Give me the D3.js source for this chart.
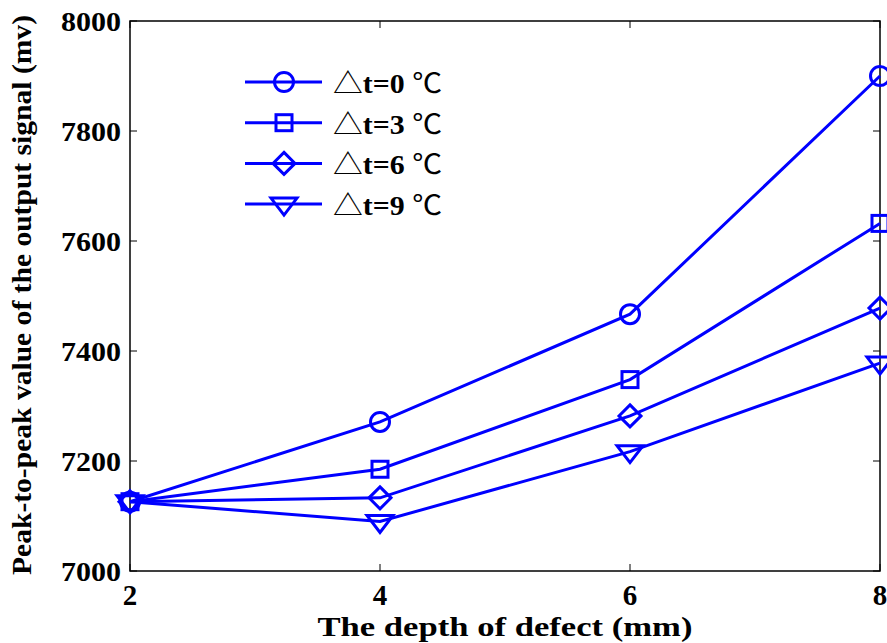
<!DOCTYPE html>
<html>
<head>
<meta charset="utf-8">
<script src="https://cdn.jsdelivr.net/npm/d3@7"></script>
<style>
  body { margin: 0; background: #fff; }
  text { font-family: "Liberation Serif", "Times New Roman", serif; font-weight: bold; fill: #000; }
</style>
</head>
<body>
<svg width="887" height="643"></svg>
<script>
// data
var depths = [2, 4, 6, 8];
var dt0 = [7126, 7271, 7467, 7900];
var dt3 = [7126, 7185, 7348, 7632];
var dt6 = [7126, 7133, 7282, 7478];
var dt9 = [7126, 7090, 7217, 7378];
var seriesNames = ['t=0', 't=3', 't=6', 't=9'];
var markerTypes = ['circle', 'square', 'diamond', 'triangle'];
var xTicks = [2, 4, 6, 8];
var yTicks = [7000, 7200, 7400, 7600, 7800, 8000];

var allSeries = [dt0, dt3, dt6, dt9];

var svg = d3.select('svg');
var plotLeft = 130, plotRight = 880, plotTop = 21, plotBottom = 571;
var blue = '#0000ff';

var scaleX = d3.scaleLinear().domain([2, 8]).range([plotLeft, plotRight]);
var scaleY = d3.scaleLinear().domain([7000, 8000]).range([plotBottom, plotTop]);

// box around the plot
svg.append('rect')
    .attr('x', plotLeft).attr('y', plotTop)
    .attr('width', plotRight - plotLeft).attr('height', plotBottom - plotTop)
    .attr('fill', 'none').attr('stroke', '#000').attr('stroke-width', 1.5);

// ticks pointing inward, on all four sides
var tickLen = 7;
svg.append('g').selectAll('line').data(xTicks).enter().append('line')
    .attr('x1', function(d) { return scaleX(d); }).attr('x2', function(d) { return scaleX(d); })
    .attr('y1', plotBottom).attr('y2', plotBottom - tickLen)
    .attr('stroke', '#000').attr('stroke-width', 1);
svg.append('g').selectAll('line').data(xTicks).enter().append('line')
    .attr('x1', function(d) { return scaleX(d); }).attr('x2', function(d) { return scaleX(d); })
    .attr('y1', plotTop).attr('y2', plotTop + tickLen)
    .attr('stroke', '#000').attr('stroke-width', 1);
svg.append('g').selectAll('line').data(yTicks).enter().append('line')
    .attr('y1', function(d) { return scaleY(d); }).attr('y2', function(d) { return scaleY(d); })
    .attr('x1', plotLeft).attr('x2', plotLeft + tickLen)
    .attr('stroke', '#000').attr('stroke-width', 1);
svg.append('g').selectAll('line').data(yTicks).enter().append('line')
    .attr('y1', function(d) { return scaleY(d); }).attr('y2', function(d) { return scaleY(d); })
    .attr('x1', plotRight).attr('x2', plotRight - tickLen)
    .attr('stroke', '#000').attr('stroke-width', 1);

// tick labels
svg.append('g').selectAll('text').data(xTicks).enter().append('text')
    .attr('x', function(d) { return scaleX(d); })
    .attr('y', 605)
    .attr('text-anchor', 'middle')
    .style('font-size', '29px')
    .text(function(d) { return d; });

svg.append('g').selectAll('text').data(yTicks).enter().append('text')
    .attr('x', 121)
    .attr('y', function(d) { return scaleY(d) + 10; })
    .attr('text-anchor', 'end')
    .attr('textLength', 60)
    .attr('lengthAdjust', 'spacingAndGlyphs')
    .style('font-size', '28px')
    .text(function(d) { return d; });

// axis titles
svg.append('text')
    .attr('x', 505).attr('y', 636)
    .attr('text-anchor', 'middle')
    .attr('textLength', 375)
    .attr('lengthAdjust', 'spacingAndGlyphs')
    .style('font-size', '28px')
    .text('The depth of defect (mm)');

svg.append('text')
    .attr('transform', 'translate(31,295) rotate(-90)')
    .attr('text-anchor', 'middle')
    .attr('textLength', 560)
    .attr('lengthAdjust', 'spacingAndGlyphs')
    .style('font-size', '28px')
    .text('Peak-to-peak value of the output signal (mv)');

// marker shapes
function drawMarker(g, type, x, y) {
    var m;
    if (type === 'circle') {
        m = g.append('circle').attr('cx', x).attr('cy', y).attr('r', 9.5);
    } else if (type === 'square') {
        m = g.append('rect').attr('x', x - 8).attr('y', y - 8).attr('width', 16).attr('height', 16);
    } else if (type === 'diamond') {
        m = g.append('path').attr('d', 'M' + x + ',' + (y - 11) + 'L' + (x + 11) + ',' + y + 'L' + x + ',' + (y + 11) + 'L' + (x - 11) + ',' + y + 'Z');
    } else {
        m = g.append('path').attr('d', 'M' + (x - 13) + ',' + (y - 6) + 'L' + (x + 13) + ',' + (y - 6) + 'L' + x + ',' + (y + 11) + 'Z');
    }
    m.attr('fill', 'none').attr('stroke', blue).attr('stroke-width', 3);
}

var makeLine = d3.line()
    .x(function(d, i) { return scaleX(depths[i]); })
    .y(function(d) { return scaleY(d); });

var plot = svg.append('g');
allSeries.forEach(function(values, s) {
    plot.append('path')
        .attr('d', makeLine(values))
        .attr('fill', 'none')
        .attr('stroke', blue)
        .attr('stroke-width', 3);
    values.forEach(function(v, i) {
        drawMarker(plot, markerTypes[s], scaleX(depths[i]), scaleY(v));
    });
});

// legend
var legend = svg.append('g');
seriesNames.forEach(function(name, i) {
    var ly = 82 + i * 40.7;
    legend.append('line')
        .attr('x1', 245).attr('x2', 322)
        .attr('y1', ly).attr('y2', ly)
        .attr('stroke', blue).attr('stroke-width', 3);
    drawMarker(legend, markerTypes[i], 284, ly);
    var t = legend.append('text')
        .attr('x', 333).attr('y', ly + 11)
        .attr('textLength', 109)
        .attr('lengthAdjust', 'spacingAndGlyphs')
        .style('font-size', '27px');
    t.append('tspan').style('font-family', '"Noto Sans CJK SC", "DejaVu Sans"').style('font-weight', 'normal').text('\u25B3');
    t.append('tspan').text(name + ' ');
    t.append('tspan').style('font-family', '"Noto Sans CJK SC", "DejaVu Sans"').style('font-weight', 'normal').text('\u2103');
});
</script>
</body>
</html>
